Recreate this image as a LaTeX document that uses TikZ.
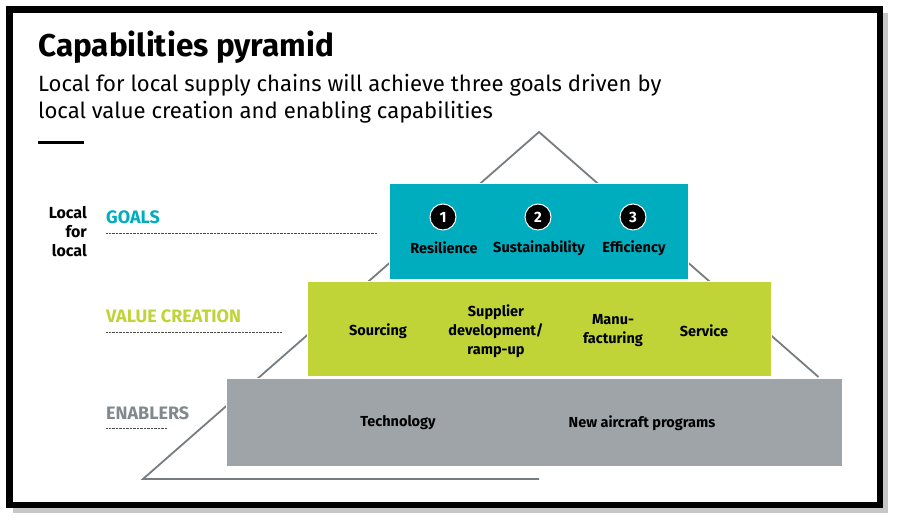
\documentclass[tikz,border=0pt]{standalone}
\usepackage{fontspec}
\setmainfont{Fira Sans}
\definecolor{goalteal}{RGB}{0,173,191}
\definecolor{valuelime}{RGB}{192,212,56}
\definecolor{enablegray}{RGB}{158,164,167}
\definecolor{labelgray}{RGB}{130,137,141}
\definecolor{edgegray}{RGB}{118,124,128}
\tikzset{
  layer/.style={draw=white,line width=1pt,inner sep=0pt},
  item/.style={font=\bfseries\fontsize{14.5}{19}\selectfont,align=center,inner sep=0pt},
  level/.style={font=\bfseries\fontsize{18}{20}\selectfont,anchor=west,inner sep=0pt},
  guide/.style={line width=0.8pt,black!70,dash pattern=on 0.7pt off 0.7pt},
  numdot/.style={circle,fill=black,draw=white,line width=1pt,minimum size=26pt,inner sep=0pt,
    text=white,font=\bfseries\fontsize{15}{15}\selectfont}
}
\begin{document}
\begin{tikzpicture}[x=1pt,y=-1pt]
  \useasboundingbox (0,0) rectangle (897,522);
  % frame with shadow
  \fill[black!22] (13,13) rectangle (888,513);
  \filldraw[fill=white,draw=black,line width=6.5pt] (9.3,9.3) rectangle (880,505);
  % heading
  \node[anchor=base west,inner sep=0pt,font=\bfseries\fontsize{31.5}{38}\selectfont] (title) at (38,56) {Capabilities pyramid};
  \node[anchor=base west,inner sep=0pt,font=\fontsize{22.1}{27}\selectfont] (sub1) at (38,91) {Local for local supply chains will achieve three goals driven by};
  \node[anchor=base west,inner sep=0pt,font=\fontsize{22.1}{27}\selectfont] (sub2) at (38,118) {local value creation and enabling capabilities};
  \draw[line width=3pt] (38,142) -- (84,142);
  % pyramid outline
  \draw[edgegray,line width=1.8pt] (539,479) -- (143,479) -- (539,132) -- (818.5,377);
  % layers
  \node[layer,fill=goalteal,minimum width=299pt,minimum height=96pt] (goals) at (538.5,231) {};
  \node[layer,fill=valuelime,minimum width=464pt,minimum height=95pt] (value) at (539,328.5) {};
  \node[layer,fill=enablegray,minimum width=616pt,minimum height=88pt] (enable) at (534,422) {};
  % goals
  \node[numdot] (n1) at (443,217) {1};
  \node[numdot] (n2) at (538,217) {2};
  \node[numdot] (n3) at (633,217) {3};
  \node[item] (resil) at (444,248) {Resilience};
  \node[item] (sustain) at (539,248) {Sustainability};
  \node[item] (effic) at (634,248) {Efficiency};
  % value creation
  \node[item] (sourcing) at (378,331) {Sourcing};
  \node[item] (supplier) at (496,331) {Supplier\\development/\\ramp-up};
  \node[item] (manu) at (613,331) {Manu-\\facturing};
  \node[item] (service) at (704,331) {Service};
  % enablers
  \node[item] (tech) at (398,423) {Technology};
  \node[item] (aircraft) at (642,423) {New aircraft programs};
  % side labels
  \node[anchor=east,align=right,inner sep=0pt,font=\bfseries\fontsize{16}{19}\selectfont] (local) at (87,232) {Local\\for\\local};
  \node[level,text=goalteal] (goalslbl) at (106,217) {GOALS};
  \node[level,text=valuelime] (valuelbl) at (106,316) {VALUE CREATION};
  \node[level,text=labelgray] (enablelbl) at (106,413) {ENABLERS};
  \draw[guide] (106,233) -- (377,233);
  \draw[guide] (106,332) -- (282,332);
  \draw[guide] (106,428) -- (167,428);
\end{tikzpicture}
\end{document}
